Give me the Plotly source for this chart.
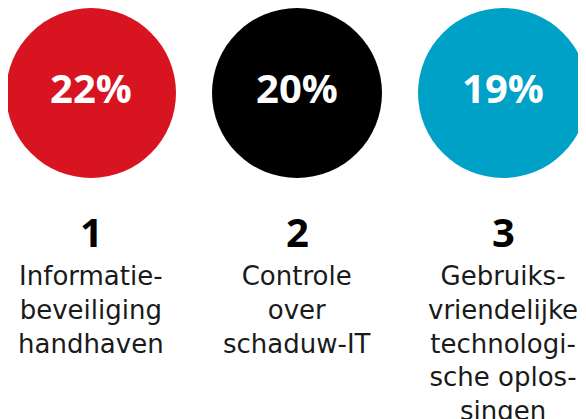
import plotly.graph_objects as go

ranks = ["1", "2", "3"]
percentages = ["22%", "20%", "19%"]
labels = [
    "Informatie-<br>beveiliging<br>handhaven",
    "Controle<br>over<br>schaduw-IT",
    "Gebruiks-<br>vriendelijke<br>technologi-<br>sche oplos-<br>singen",
]
colors = ["#D7141F", "#000000", "#00A1C6"]

xpos = [0, 1, 2]

fig = go.Figure()
fig.add_trace(go.Scatter(
    x=xpos, y=[-93] * 3,
    mode="markers+text",
    marker=dict(size=170, color=colors, line=dict(width=0)),
    text=percentages,
    textposition="middle center",
    textfont=dict(family="Open Sans", size=40, color="white", weight="bold"),
    cliponaxis=False,
    hoverinfo="skip",
    showlegend=False,
))

for i in range(3):
    fig.add_annotation(
        x=xpos[i], y=-231, text=ranks[i], showarrow=False,
        xanchor="center", yanchor="middle",
        font=dict(family="Open Sans", size=40, color="#000000", weight="bold"),
    )
    fig.add_annotation(
        x=xpos[i], y=-259, text=labels[i], showarrow=False,
        xanchor="center", yanchor="top", align="center",
        font=dict(family="DejaVu Sans", size=26, color="#1a1a1a"),
    )

fig.update_layout(
    width=586, height=419,
    margin=dict(l=0, r=0, t=0, b=0),
    paper_bgcolor="white", plot_bgcolor="white",
    xaxis=dict(range=[-83 / 206, (586 - 83) / 206], visible=False, fixedrange=True),
    yaxis=dict(range=[-427, -8], visible=False, fixedrange=True),
)

fig.write_html("out.html")
